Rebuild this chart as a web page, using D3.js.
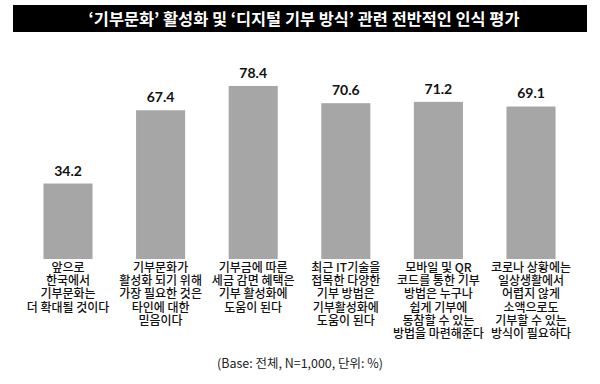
<!DOCTYPE html>
<html><head><meta charset="utf-8">
<script src="https://cdn.jsdelivr.net/npm/d3@7"></script>
<style>body{margin:0;background:#fff;}</style>
</head><body>
<svg id="c" width="600" height="384"></svg>
<script>
const title = "‘기부문화’ 활성화 및 ‘디지털 기부 방식’ 관련 전반적인 인식 평가";
const categories = [
  ["앞으로","한국에서","기부문화는","더 확대될 것이다"],
  ["기부문화가","활성화 되기 위해","가장 필요한 것은","타인에 대한","믿음이다"],
  ["기부금에 따른","세금 감면 혜택은","기부 활성화에","도움이 된다"],
  ["최근 IT기술을","접목한 다양한","기부 방법은","기부활성화에","도움이 된다"],
  ["모바일 및 QR","코드를 통한 기부","방법은 누구나","쉽게 기부에","동참할 수 있는","방법을 마련해준다"],
  ["코로나 상황에는","일상생활에서","어렵지 않게","소액으로도","기부할 수 있는","방식이 필요하다"]
];
const values = [34.2, 67.4, 78.4, 70.6, 71.2, 69.1];
const footnote = "(Base: 전체, N=1,000, 단위: %)";

const svg = d3.select("#c");
const kfont = "'Noto Sans CJK KR','Noto Sans',sans-serif";

function fitSize(sel, base, target){
  sel.attr("font-size", base);
  const w = sel.node().getComputedTextLength();
  if (w > 0) sel.attr("font-size", Math.min(base*1.3, base*target/w));
}

svg.append("rect").attr("x",13).attr("y",5).attr("width",574).attr("height",27).attr("fill","#000");
const t = svg.append("text").attr("x",304).attr("y",24.5).attr("text-anchor","middle")
  .attr("fill","#fff").attr("font-family",kfont).attr("font-weight","bold")
  .text(title);
fitSize(t, 15, 431);

const idx = values.map((d,i)=>i);
const x = d3.scaleBand().domain(idx).range([21.7,577.3]).paddingInner(0.47).paddingOuter(0.235);
const y = d3.scaleLinear().domain([0,100]).range([259,38.3]);

svg.selectAll("rect.bar").data(values).join("rect").attr("class","bar")
  .attr("x",(d,i)=>x(i)).attr("y",d=>y(d)).attr("width",x.bandwidth())
  .attr("height",d=>y(0)-y(d)).attr("fill","#a6a6a6");

svg.selectAll("text.val").data(values).join("text").attr("class","val")
  .attr("x",(d,i)=>x(i)+x.bandwidth()/2).attr("y",d=>y(d)-8)
  .attr("text-anchor","middle").attr("font-family","Lato, 'Open Sans', sans-serif")
  .attr("font-weight","bold").attr("font-size",14).attr("fill","#111")
  .text(d=>d.toFixed(1));

const g = svg.selectAll("text.cat").data(categories).join("text").attr("class","cat")
  .attr("text-anchor","middle").attr("font-family",kfont).attr("font-size",12)
  .attr("font-weight",500).attr("fill","#111");
g.each(function(lines,i){
  d3.select(this).selectAll("tspan").data(lines).join("tspan")
    .attr("x",x(i)+x.bandwidth()/2).attr("y",(l,j)=>272+j*13.2).text(l=>l);
});

const f = svg.append("text").attr("x",300).attr("y",368).attr("text-anchor","middle")
  .attr("font-family",kfont).attr("fill","#222").text(footnote);
fitSize(f, 12, 166);
</script>
</body></html>
